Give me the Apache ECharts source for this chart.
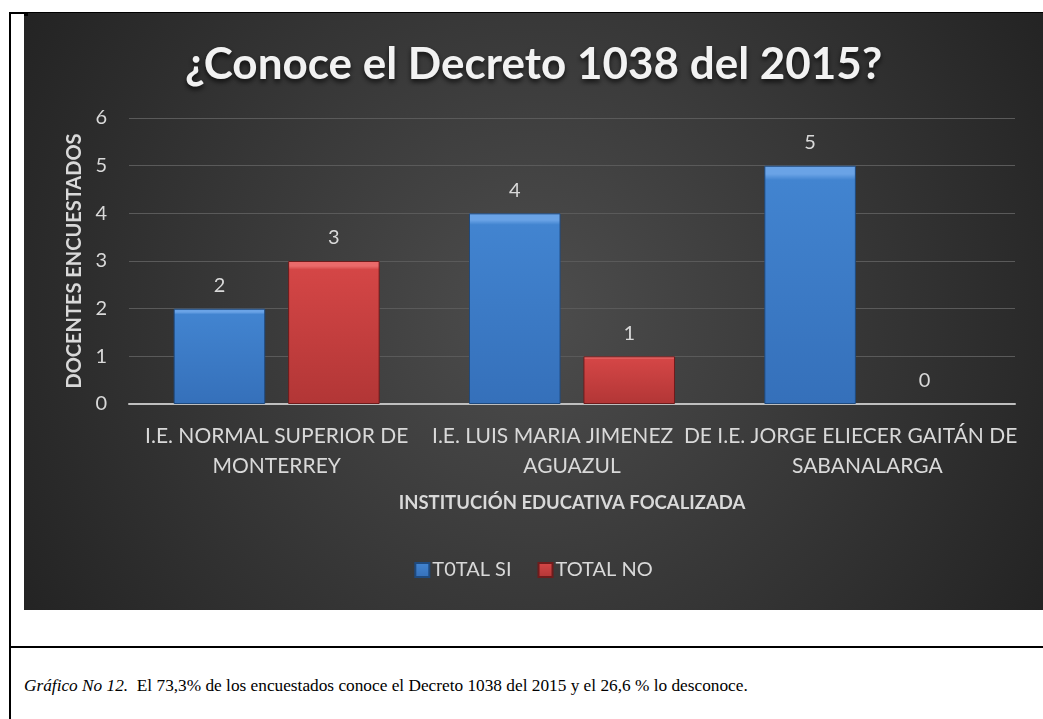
<!DOCTYPE html>
<html>
<head>
<meta charset="utf-8">
<script src="https://cdn.jsdelivr.net/npm/echarts@6/dist/echarts.min.js"></script>
<style>
  body { margin: 0; background: #fff; width: 1043px; height: 719px; overflow: hidden; position: relative; }
  .rule { position: absolute; background: #000; }
  #chart { position: absolute; left: 24px; top: 13px; width: 1019px; height: 597px; }
  #caption { position: absolute; left: 24px; top: 676px; font-family: "Liberation Serif", serif; font-size: 17.3px; color: #000; white-space: nowrap; }
</style>
</head>
<body>
<div class="rule" style="left:9px;top:12px;width:2px;height:707px"></div>
<div class="rule" style="left:9px;top:12px;width:1034px;height:2px"></div>
<div class="rule" style="left:9px;top:646px;width:1034px;height:2px"></div>
<div id="chart"></div>
<div class="rule" style="left:24px;top:13px;width:4px;height:3px"></div>
<div id="caption"><i>Gráfico No 12.</i>&nbsp; El 73,3% de los encuestados conoce el Decreto 1038 del 2015 y el 26,6 % lo desconoce.</div>
<script>
const categories = [
  'I.E. NORMAL SUPERIOR DE\nMONTERREY',
  'I.E. LUIS MARIA JIMENEZ  DE\nAGUAZUL',
  'I.E. JORGE ELIECER GAITÁN DE\nSABANALARGA'
]
const totalSi = [2, 4, 5]
const totalNo = [3, 1, 0]
const seriesNames = ['T0TAL SI', 'TOTAL NO']

const font = 'Lato, "Open Sans", sans-serif'
const labelColor = '#d9d9d9'

function bevel(top, mid, bottom) {
  return new echarts.graphic.LinearGradient(0, 0, 0, 1, [
    { offset: 0, color: top },
    { offset: 0.035, color: top },
    { offset: 0.06, color: mid },
    { offset: 1, color: bottom }
  ])
}

// a zero bar should not leave a border line on the axis
function barData(values) {
  return values.map(v => v === 0 ? { value: v, itemStyle: { borderWidth: 0 } } : v)
}

const chart = echarts.init(document.getElementById('chart'))

chart.setOption({
  backgroundColor: {
    type: 'radial', x: 0.5, y: 0.5, r: 1,
    colorStops: [
      { offset: 0, color: '#4d4d4d' },
      { offset: 1, color: '#232323' }
    ]
  },
  title: {
    text: '¿Conoce el Decreto 1038 del 2015?',
    left: 'center',
    top: 25,
    textStyle: {
      color: '#f2f2f2',
      fontFamily: font,
      fontWeight: 'bold',
      fontSize: 44,
      textShadowColor: 'rgba(0,0,0,0.7)',
      textShadowBlur: 5,
      textShadowOffsetY: 3
    }
  },
  legend: {
    bottom: 25,
    left: 'center',
    itemWidth: 14,
    itemHeight: 14,
    itemGap: 26,
    icon: 'rect',
    textStyle: { color: labelColor, fontFamily: font, fontSize: 20, padding: [0, 0, 0, -2] },
    data: seriesNames
  },
  grid: {
    left: 105,
    right: 28,
    top: 105,
    bottom: 206
  },
  xAxis: {
    type: 'category',
    data: categories,
    name: 'INSTITUCIÓN EDUCATIVA FOCALIZADA',
    nameLocation: 'middle',
    nameGap: 90,
    nameTextStyle: { color: labelColor, fontFamily: font, fontWeight: 'bold', fontSize: 18.5 },
    axisLine: { lineStyle: { color: '#bfbfbf', width: 2 } },
    axisTick: { show: false },
    axisLabel: { color: labelColor, fontFamily: font, fontSize: 21, lineHeight: 30, margin: 17, interval: 0 }
  },
  yAxis: {
    type: 'value',
    min: 0,
    max: 6,
    interval: 1,
    name: 'DOCENTES ENCUESTADOS',
    nameLocation: 'middle',
    nameGap: 44,
    nameTextStyle: { color: labelColor, fontFamily: font, fontWeight: 'bold', fontSize: 20 },
    axisLine: { show: false },
    axisTick: { show: false },
    axisLabel: { color: labelColor, fontFamily: font, fontSize: 20, margin: 22 },
    splitLine: { lineStyle: { color: '#5a5a5a', width: 1 } }
  },
  series: [{
    name: seriesNames[0],
    type: 'bar',
    data: barData(totalSi),
    barWidth: '31%',
    barGap: '25%',
    itemStyle: { color: bevel('#6aa3e6', '#4284d0', '#3570ba'), borderColor: '#1f4a7e', borderWidth: 1 },
    label: { show: true, position: 'top', distance: 13, color: labelColor, fontFamily: font, fontSize: 20 }
  }, {
    name: seriesNames[1],
    type: 'bar',
    data: barData(totalNo),
    barWidth: '31%',
    itemStyle: { color: bevel('#ea6a6a', '#d44646', '#b23636'), borderColor: '#6e1c1c', borderWidth: 1 },
    label: { show: true, position: 'top', distance: 13, color: labelColor, fontFamily: font, fontSize: 20 }
  }]
})
</script>
</body>
</html>
